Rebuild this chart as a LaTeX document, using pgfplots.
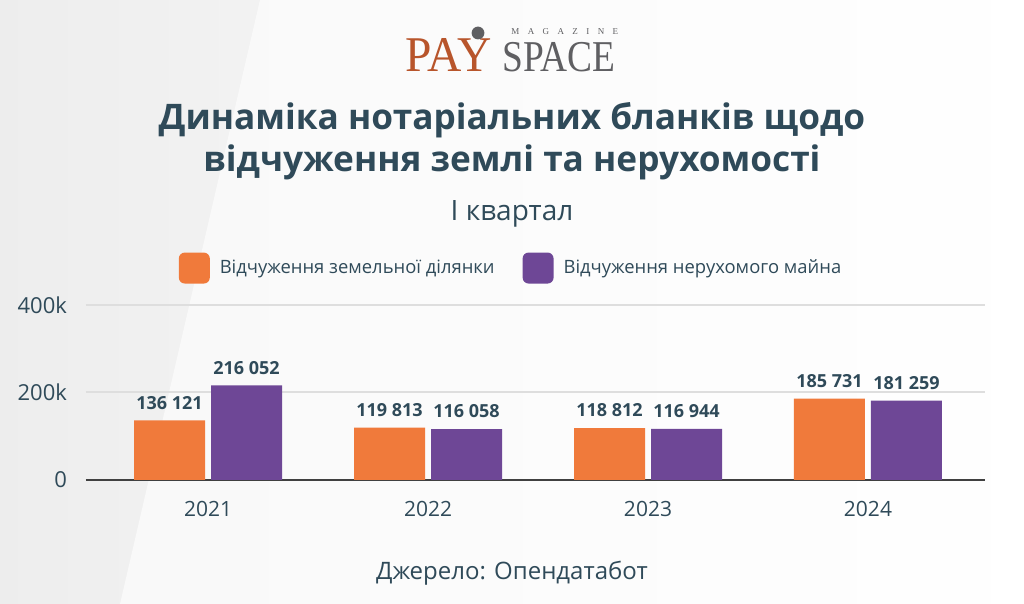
\documentclass[border=0pt]{standalone}
\usepackage{fontspec}
\setmainfont{Open Sans}
\newfontfamily\logofont{Liberation Serif}
\usepackage{pgfplots}
\pgfplotsset{compat=1.18}
\definecolor{txt}{HTML}{2F4A59}
\definecolor{orng}{HTML}{F07A3B}
\definecolor{purp}{HTML}{6E4796}
\definecolor{gridc}{HTML}{DEDEDE}
\definecolor{logoor}{HTML}{B8552B}
\definecolor{logogr}{HTML}{5F5F62}

\begin{document}
\begin{tikzpicture}
% 1 px of the reference = 0.5pt
\shade[left color=black!7, right color=white, middle color=white!97!black] (0pt,0pt) rectangle (512pt,302pt);
\fill[white, opacity=0.6] (130pt,302pt) -- (512pt,302pt) -- (512pt,0pt) -- (60pt,0pt) -- cycle;

% logo
\node[anchor=base west, inner sep=0pt, text=logoor] at (202.5pt,266pt)
  {\logofont\fontsize{25}{25}\selectfont\scalebox{0.95}[1]{PAY}};
\node[anchor=base west, inner sep=0pt, text=logogr] at (251pt,266pt)
  {\logofont\fontsize{22}{22}\selectfont\scalebox{0.85}[1]{SPACE}};
\node[anchor=base west, inner sep=0pt, text=logogr] at (255.5pt,284.5pt)
  {\logofont\fontsize{4.5}{5}\selectfont M\hspace{4.2pt}A\hspace{4.2pt}G\hspace{4.2pt}A\hspace{4.2pt}Z\hspace{4.2pt}I\hspace{4.2pt}N\hspace{4.2pt}E};
\fill[logogr] (239pt,285.5pt) circle (3.2pt);

% titles
\node[text=txt, font=\fontsize{17.6}{20}\selectfont\bfseries] at (256pt,242pt)
  {Динаміка нотаріальних бланків щодо};
\node[text=txt, font=\fontsize{17.6}{20}\selectfont\bfseries] at (256pt,221pt)
  {відчуження землі та нерухомості};
\node[text=txt, font=\fontsize{14}{16}\selectfont] at (256pt,195pt) {І квартал};
\node[text=txt, font=\fontsize{12}{14}\selectfont] at (256pt,15.5pt) {Джерело: Опендатабот};

\begin{axis}[
  at={(43pt,62pt)}, anchor=south west,
  scale only axis, width=449.5pt, height=87.5pt,
  ybar=3pt, bar width=35.5pt,
  xmin=-0.555, xmax=3.532, ymin=0, ymax=400000,
  xtick=data, xticklabels={2021,2022,2023,2024},
  ytick={0,200000,400000}, yticklabels={0,200k,400k},
  scaled y ticks=false,
  axis x line*=bottom, axis y line*=left,
  y axis line style={draw=none},
  x axis line style={draw=black!75, line width=1.2pt},
  major tick length=0pt,
  ymajorgrids, grid style={draw=gridc, line width=1pt},
  tick label style={text=txt},
  yticklabel style={xshift=-6pt, font=\fontsize{11}{13}\selectfont},
  xticklabel style={yshift=-7pt, font=\fontsize{10.5}{12}\selectfont},
  nodes near coords,
  every node near coord/.append style={text=txt, font=\fontsize{9}{11}\selectfont\bfseries, yshift=2pt,
    /pgf/number format/.cd, fixed, precision=0, 1000 sep={\ }, assume math mode=true},
  legend columns=2,
  legend style={at={(0.4739,1.211)}, anchor=center, draw=none, fill=none,
    font=\fontsize{9.2}{11}\selectfont, text=txt,
    /tikz/every odd column/.append style={column sep=3pt},
    /tikz/every even column/.append style={column sep=12pt}},
  legend image code/.code={\fill[#1, draw=none, rounded corners=3pt] (0pt,-7.75pt) rectangle (15.5pt,7.75pt);},
]
\addplot[fill=orng, draw=none] coordinates {(0,136121) (1,119813) (2,118812) (3,185731)};
\addplot[fill=purp, draw=none] coordinates {(0,216052) (1,116058) (2,116944) (3,181259)};
\legend{Відчуження земельної ділянки, Відчуження нерухомого майна}
\end{axis}
\end{tikzpicture}
\end{document}
